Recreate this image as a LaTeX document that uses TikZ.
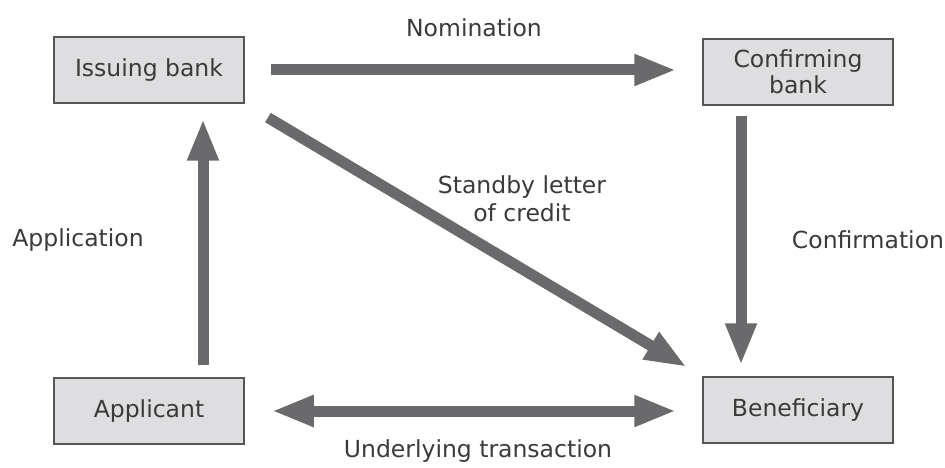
\documentclass[tikz,border=0pt]{standalone}
\usepackage{fontspec}
\setmainfont{DejaVu Sans}
\usetikzlibrary{arrows.meta}
\definecolor{boxfill}{HTML}{DEDEE0}
\definecolor{boxline}{HTML}{555555}
\definecolor{arrowgray}{HTML}{6A6A6C}
\definecolor{textgray}{HTML}{3A3A3A}
\begin{document}
\begin{tikzpicture}[x=1pt,y=-1pt,
	party/.style={draw=boxline,line width=1.5pt,fill=boxfill,minimum width=190pt,minimum height=66pt,
		inner sep=0pt,align=center,text=textgray,font=\fontsize{23.5}{26}\selectfont},
	lbl/.style={align=center,text=textgray,font=\fontsize{23.5}{28}\selectfont},
	flow/.style={draw=arrowgray,line width=11pt,-{Triangle[width=29pt,length=42pt]}},
	both/.style={draw=arrowgray,line width=11pt,{Triangle[width=29pt,length=42pt]}-{Triangle[width=29pt,length=42pt]}}]
		\useasboundingbox (0,0) rectangle (945,468);
		\node[party] (ib) at (149,70) {Issuing bank};
		\node[party] (cb) at (798,72) {Confirming\\bank};
		\node[party] (ap) at (149,411) {Applicant};
		\node[party] (bf) at (798,410) {Beneficiary};
		\draw[flow,shorten <=26pt,shorten >=26pt] (ib.east) -- (cb.west |- ib.east);
		\draw[flow,shorten <=12pt,shorten >=15pt] ([xshift=54pt]ap.north) -- ([xshift=54pt]ib.south);
		\draw[flow,shorten <=10pt,shorten >=11pt] ([xshift=-57pt]cb.south) -- ([xshift=-57pt]bf.north);
		\draw[flow,shorten <=27pt,shorten >=18pt] (ib.south east) -- (bf.north west);
		\draw[both,shorten <=27pt,shorten >=26pt] (ap.east) -- (bf.west |- ap.east);
		\node[lbl] (nom) at (474,28) {Nomination};
		\node[lbl] (sbl) at (522,199) {Standby letter\\of credit};
		\node[lbl] (app) at (78,240) {Application};
		\node[lbl] (con) at (868,240) {Confirmation};
		\node[lbl] (utr) at (478,451) {Underlying transaction};
	\end{tikzpicture}
\end{document}
